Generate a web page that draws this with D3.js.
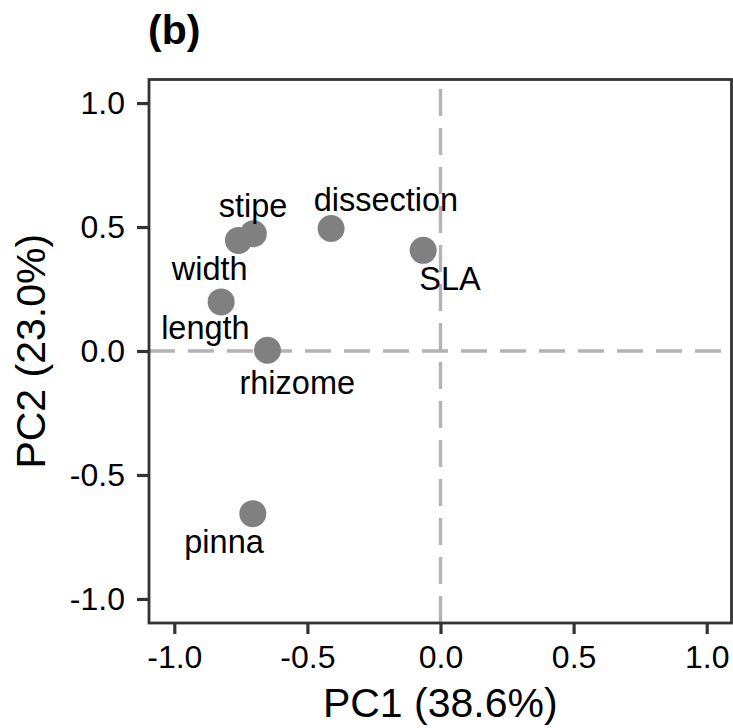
<!DOCTYPE html>
<html>
<head>
<meta charset="utf-8">
<script src="https://cdn.jsdelivr.net/npm/d3@7"></script>
<style>
  html, body { margin: 0; padding: 0; background: #fff; }
  svg { display: block; }
  text { font-family: "Liberation Sans", Arial, Helvetica, sans-serif; }
</style>
</head>
<body>
<script>
// ---- data ----
const traits = ["stipe", "width", "length", "dissection", "SLA", "rhizome", "pinna"];
const pc1 = [-0.703, -0.759, -0.824, -0.411, -0.065, -0.650, -0.705];
const pc2 = [0.473, 0.446, 0.198, 0.494, 0.406, 0.003, -0.656];
// repelled label anchors (data units, text baseline)
const labelX = [-0.704, -0.867, -0.883, -0.205, 0.036, -0.538, -0.813];
const labelY = [0.539, 0.288, 0.050, 0.565, 0.248, -0.172, -0.815];
const xTicks = [-1.0, -0.5, 0.0, 0.5, 1.0];
const xTickLabels = ["-1.0", "-0.5", "0.0", "0.5", "1.0"];
const yTicks = [-1.0, -0.5, 0.0, 0.5, 1.0];
const yTickLabels = ["-1.0", "-0.5", "0.0", "0.5", "1.0"];
const xTitle = "PC1 (38.6%)";
const yTitle = "PC2 (23.0%)";
const panelTitle = "(b)";

// ---- layout ----
const W = 733, H = 728;
const L = 149, R = 731.5, T = 79.5, B = 623;

const svg = d3.select("body").append("svg").attr("width", W).attr("height", H);

const x = d3.scaleLinear().domain([-1.095, 1.095]).range([149, 732]);
const y = d3.scaleLinear().domain([-1.097, 1.097]).range([623, 79]);

// reference lines
svg.append("line")
  .attr("x1", L).attr("x2", R)
  .attr("y1", y(0)).attr("y2", y(0))
  .attr("stroke", "#b3b3b3").attr("stroke-width", 3.4)
  .attr("stroke-dasharray", "26,13");
svg.append("line")
  .attr("x1", x(0)).attr("x2", x(0))
  .attr("y1", B).attr("y2", T)
  .attr("stroke", "#b3b3b3").attr("stroke-width", 3.4)
  .attr("stroke-dasharray", "27,12");

const data = traits.map((t, i) => ({ t, x: pc1[i], y: pc2[i], lx: labelX[i], ly: labelY[i] }));

// points
svg.append("g").selectAll("circle").data(data).join("circle")
  .attr("cx", d => x(d.x)).attr("cy", d => y(d.y))
  .attr("r", 13.5).attr("fill", "#808080");

// labels
svg.append("g").selectAll("text").data(data).join("text")
  .attr("x", d => x(d.lx)).attr("y", d => y(d.ly))
  .attr("text-anchor", "middle")
  .attr("font-size", 32.5)
  .attr("fill", "#000")
  .text(d => d.t);

// panel border
svg.append("rect")
  .attr("x", L).attr("y", T).attr("width", R - L).attr("height", B - T)
  .attr("fill", "none").attr("stroke", "#333333").attr("stroke-width", 2.8);

// axes
const xAxis = svg.append("g").attr("transform", `translate(0,${B})`)
  .call(d3.axisBottom(x).tickValues(xTicks).tickSize(11).tickPadding(11)
    .tickFormat((d, i) => xTickLabels[i]));
const yAxis = svg.append("g").attr("transform", `translate(${L},0)`)
  .call(d3.axisLeft(y).tickValues(yTicks).tickSize(12).tickPadding(12)
    .tickFormat((d, i) => yTickLabels[i]));
[xAxis, yAxis].forEach(g => {
  g.select(".domain").remove();
  g.selectAll(".tick line").attr("stroke", "#333333").attr("stroke-width", 3.2);
  g.selectAll(".tick text").attr("fill", "#000").attr("font-size", 32)
    .attr("font-family", "Liberation Sans, Arial, Helvetica, sans-serif");
});

// axis titles
svg.append("text")
  .attr("x", (L + R) / 2).attr("y", 717)
  .attr("text-anchor", "middle").attr("font-size", 41).attr("fill", "#000")
  .text(xTitle);
svg.append("text")
  .attr("transform", `translate(45,${(T + B) / 2}) rotate(-90)`)
  .attr("text-anchor", "middle").attr("font-size", 41).attr("fill", "#000")
  .text(yTitle);

// panel title
svg.append("text")
  .attr("x", 148).attr("y", 44)
  .attr("font-size", 41).attr("font-weight", "bold").attr("fill", "#000")
  .text(panelTitle);
</script>
</body>
</html>
